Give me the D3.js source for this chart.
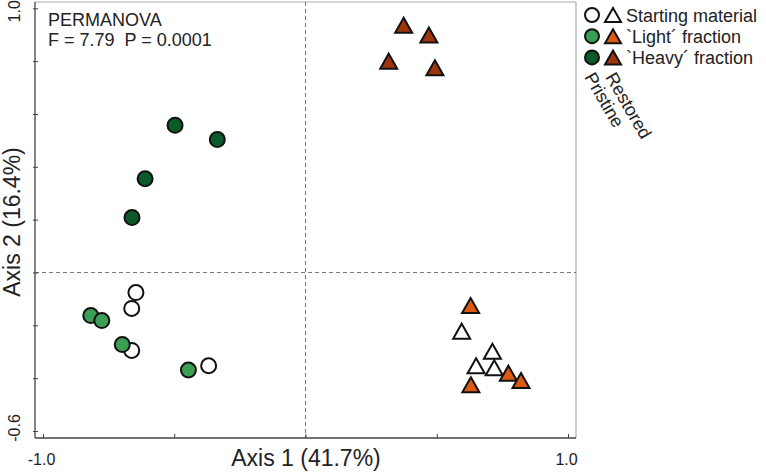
<!DOCTYPE html>
<html>
<head>
<meta charset="utf-8">
<script src="https://cdn.jsdelivr.net/npm/d3@7"></script>
<style>
  body { margin: 0; background: #fff; }
  text { font-family: "Liberation Sans", Arial, sans-serif; fill: #222; white-space: pre; }
</style>
</head>
<body>
<svg id="chart" width="766" height="472"></svg>
<script>
// PCoA scores
const pristineStartX = [-0.646, -0.662, -0.662, -0.369];
const pristineStartY = [-0.076, -0.136, -0.295, -0.353];
const pristineLightX = [-0.818, -0.776, -0.698, -0.446];
const pristineLightY = [-0.163, -0.182, -0.273, -0.369];
const pristineHeavyX = [-0.497, -0.336, -0.611, -0.661];
const pristineHeavyY = [0.557, 0.503, 0.355, 0.208];

const restoredStartX = [0.595, 0.712, 0.650, 0.719];
const restoredStartY = [-0.222, -0.298, -0.353, -0.361];
const restoredLightX = [0.629, 0.630, 0.773, 0.821];
const restoredLightY = [-0.125, -0.425, -0.381, -0.409];
const restoredHeavyX = [0.374, 0.470, 0.317, 0.493];
const restoredHeavyY = [0.936, 0.899, 0.800, 0.775];

const xTicks = [-1.0, -0.5, 0, 0.5, 1.0];
const yTicks = [1.0, 0.8, 0.6, 0.4, 0.2, 0, -0.2, -0.4, -0.6];
const xTickLabels = ["-1.0", "", "", "", "1.0"];
const yTickLabels = ["1.0", "", "", "", "", "", "", "", "-0.6"];

const fractions = ["Starting material", "`Light\u00b4 fraction", "`Heavy\u00b4 fraction"];
const pristineColors = ["#ffffff", "#3a9e55", "#0c5a2a"];
const restoredColors = ["#ffffff", "#dc5a12", "#a0340c"];

const svg = d3.select("#chart");

// scales
const x = d3.scaleLinear().domain([-1, 1]).range([43, 568]);
const y = d3.scaleLinear().domain([-0.6, 1.0]).range([431, 8.3]);

const pLeft = 35, pRight = 576, pTop = 2, pBottom = 438;

// frame
svg.append("line").attr("x1", pLeft).attr("x2", pRight).attr("y1", pTop).attr("y2", pTop)
  .attr("stroke", "#aaa").attr("stroke-width", 1);
svg.append("line").attr("x1", pRight).attr("x2", pRight).attr("y1", pTop).attr("y2", pBottom)
  .attr("stroke", "#999").attr("stroke-width", 1);

// zero lines
svg.append("line").attr("x1", x(0)).attr("x2", x(0)).attr("y1", pTop).attr("y2", pBottom)
  .attr("stroke", "#777").attr("stroke-dasharray", "4,3");
svg.append("line").attr("x1", pLeft).attr("x2", pRight).attr("y1", y(0)).attr("y2", y(0))
  .attr("stroke", "#777").attr("stroke-dasharray", "4,3");

// axes
const xAxis = svg.append("g").attr("transform", `translate(0,${pBottom})`)
  .call(d3.axisBottom(x).tickValues(xTicks).tickSizeInner(-4).tickSizeOuter(0)
    .tickFormat((d, i) => xTickLabels[i]));
xAxis.select(".domain").attr("d", `M${pLeft},0H${pRight}`).attr("stroke", "#444").attr("stroke-width", 1.3);
xAxis.selectAll(".tick line").attr("stroke", "#444");
xAxis.selectAll(".tick text").attr("y", 16).attr("dx", -2)
  .style("font-size", "16px").style("font-family", "Liberation Sans, Arial, sans-serif").attr("fill", "#222");

const yAxis = svg.append("g").attr("transform", `translate(${pLeft},0)`)
  .call(d3.axisLeft(y).tickValues(yTicks).tickSizeInner(2).tickSizeOuter(0)
    .tickFormat(() => ""));
yAxis.select(".domain").attr("d", `M0,${pTop}V${pBottom}`).attr("stroke", "#444").attr("stroke-width", 1.3);
yAxis.selectAll(".tick line").attr("x1", -2).attr("x2", 3).attr("stroke", "#444");

yTicks.forEach((d, i) => {
  if (!yTickLabels[i]) return;
  svg.append("text")
    .attr("transform", `translate(20,${y(d) + (i === 0 ? 3 : -3)}) rotate(-90)`)
    .attr("text-anchor", "middle")
    .style("font-size", "16px")
    .text(yTickLabels[i]);
});

// axis titles
svg.append("text").attr("x", 306).attr("y", 466).attr("text-anchor", "middle")
  .style("font-size", "23px").text("Axis 1 (41.7%)");
svg.append("text").attr("transform", "translate(20,222) rotate(-90)").attr("text-anchor", "middle")
  .style("font-size", "23px").text("Axis 2 (16.4%)");

// PERMANOVA note
svg.append("text").attr("x", 48).attr("y", 26).style("font-size", "18px").text("PERMANOVA");
svg.append("text").attr("x", 48).attr("y", 46).style("font-size", "18px").text("F = 7.79  P = 0.0001");

// markers
const tri = (w, h) => `M0,${-h / 2}L${w / 2},${h / 2}L${-w / 2},${h / 2}Z`;

function circles(xs, ys, fill) {
  svg.append("g").selectAll("circle").data(xs).enter().append("circle")
    .attr("cx", d => x(d)).attr("cy", (d, i) => y(ys[i])).attr("r", 7.5)
    .attr("fill", fill).attr("stroke", "#111").attr("stroke-width", 2);
}
function triangles(xs, ys, fill) {
  svg.append("g").selectAll("path").data(xs).enter().append("path")
    .attr("d", tri(17, 15))
    .attr("transform", (d, i) => `translate(${x(d)},${y(ys[i])})`)
    .attr("fill", fill).attr("stroke", "#111").attr("stroke-width", 2).attr("stroke-linejoin", "miter");
}

circles(pristineStartX, pristineStartY, pristineColors[0]);
circles(pristineLightX, pristineLightY, pristineColors[1]);
circles(pristineHeavyX, pristineHeavyY, pristineColors[2]);
triangles(restoredStartX, restoredStartY, restoredColors[0]);
triangles(restoredLightX, restoredLightY, restoredColors[1]);
triangles(restoredHeavyX, restoredHeavyY, restoredColors[2]);

// legend
const legend = svg.append("g");
fractions.forEach((f, i) => {
  const cy = 15 + i * 21.2;
  legend.append("circle").attr("cx", 592).attr("cy", cy).attr("r", 7)
    .attr("fill", pristineColors[i]).attr("stroke", "#111").attr("stroke-width", 2);
  legend.append("path").attr("d", tri(16, 14)).attr("transform", `translate(613,${cy})`)
    .attr("fill", restoredColors[i]).attr("stroke", "#111").attr("stroke-width", 2);
  legend.append("text").attr("x", 626).attr("y", cy + 6.5).style("font-size", "18px").text(f);
});
legend.append("text").attr("transform", "translate(584,77) rotate(60)").style("font-size", "18px").text("Pristine");
legend.append("text").attr("transform", "translate(605,77) rotate(60)").style("font-size", "18px").text("Restored");
</script>
</body>
</html>
